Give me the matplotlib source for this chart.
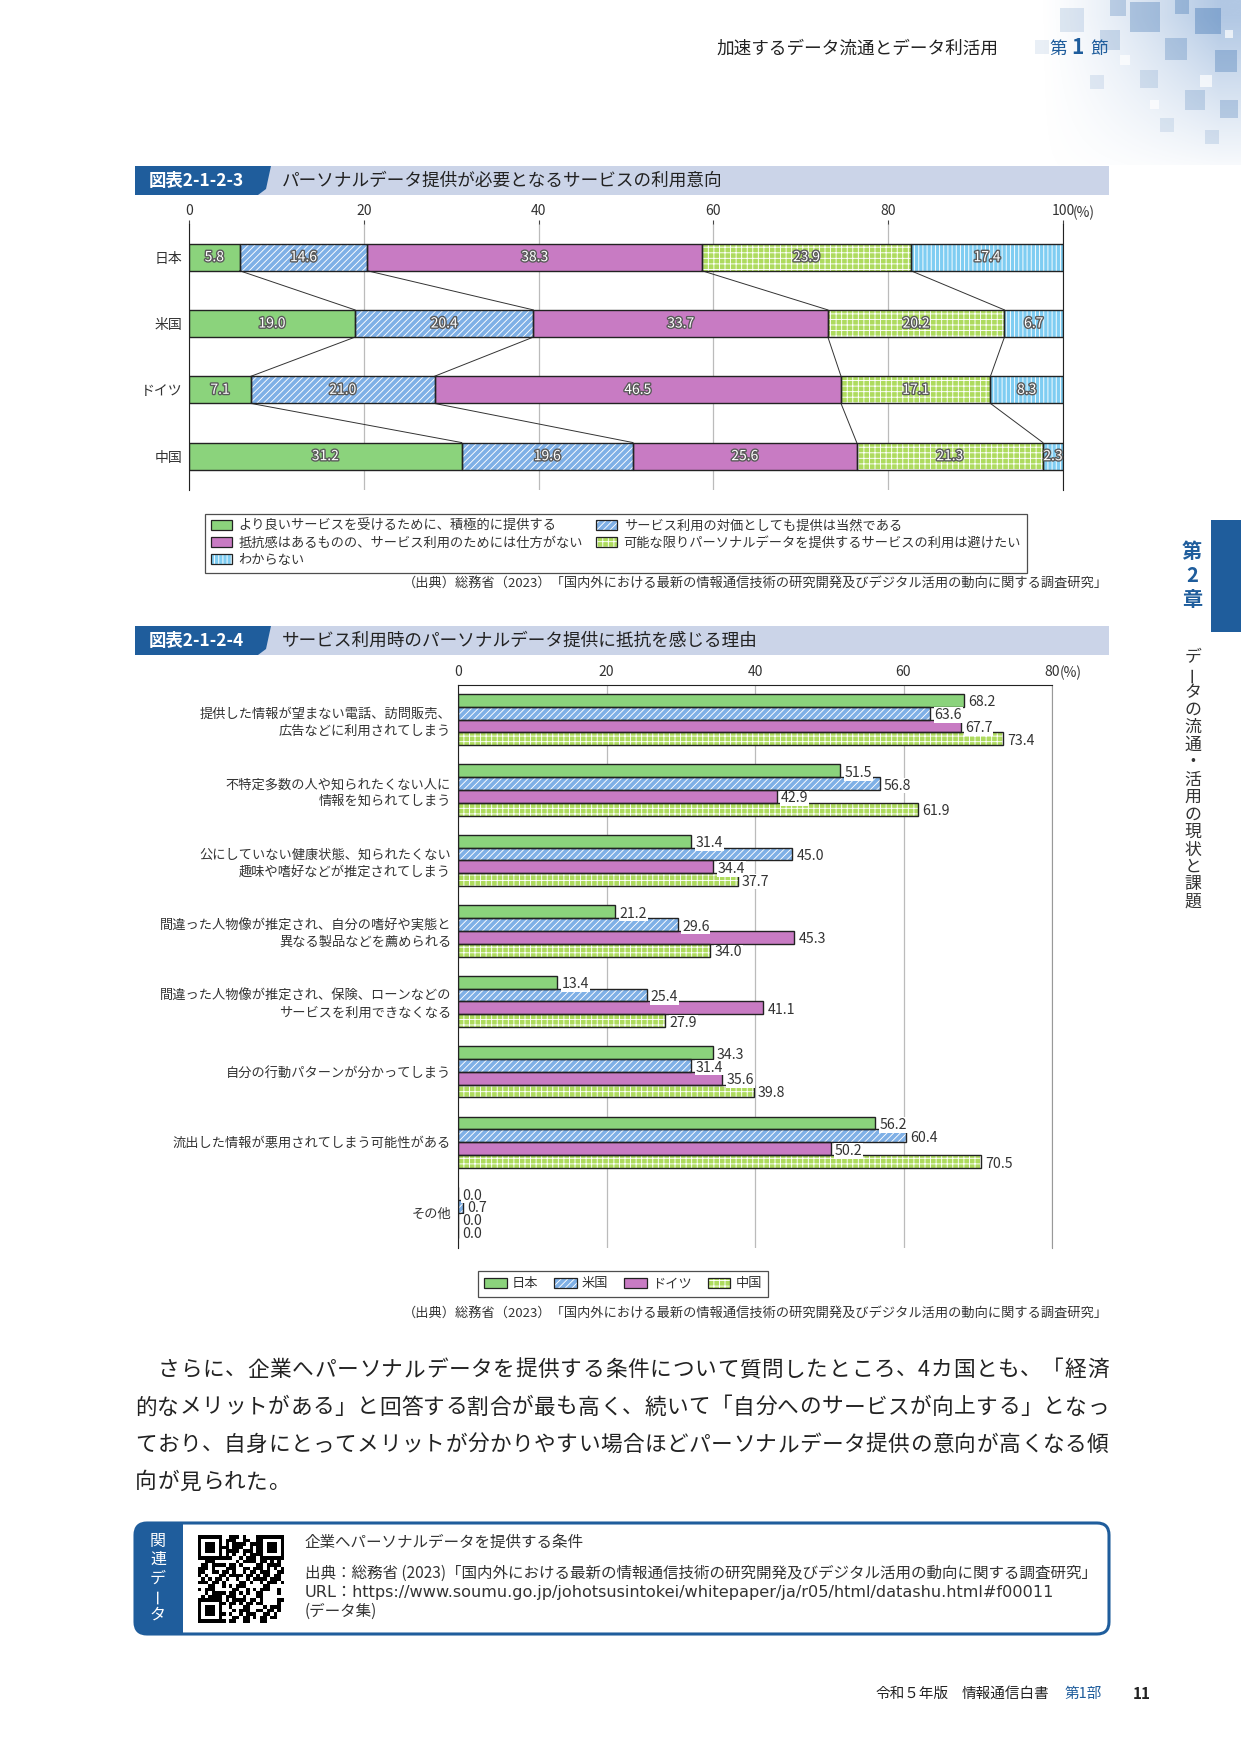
import numpy as np
import matplotlib
matplotlib.use('Agg')
import matplotlib.pyplot as plt
from matplotlib.patches import Rectangle, Polygon, FancyBboxPatch, Patch
import matplotlib.patheffects as pe

plt.rcParams['font.family'] = ['Noto Sans CJK JP', 'DejaVu Sans']
plt.rcParams['hatch.linewidth'] = 0.65

# ---------------- data ----------------
countries = ['日本', '米国', 'ドイツ', '中国']
intent_labels = ['より良いサービスを受けるために、積極的に提供する',
                 'サービス利用の対価としても提供は当然である',
                 '抵抗感はあるものの、サービス利用のためには仕方がない',
                 '可能な限りパーソナルデータを提供するサービスの利用は避けたい',
                 'わからない']
intent_jp = [5.8, 14.6, 38.3, 23.9, 17.4]
intent_us = [19.0, 20.4, 33.7, 20.2, 6.7]
intent_de = [7.1, 21.0, 46.5, 17.1, 8.3]
intent_cn = [31.2, 19.6, 25.6, 21.3, 2.3]

reasons = ['提供した情報が望まない電話、訪問販売、\n広告などに利用されてしまう',
           '不特定多数の人や知られたくない人に\n情報を知られてしまう',
           '公にしていない健康状態、知られたくない\n趣味や嗜好などが推定されてしまう',
           '間違った人物像が推定され、自分の嗜好や実態と\n異なる製品などを薦められる',
           '間違った人物像が推定され、保険、ローンなどの\nサービスを利用できなくなる',
           '自分の行動パターンが分かってしまう',
           '流出した情報が悪用されてしまう可能性がある',
           'その他']
reason_jp = [68.2, 51.5, 31.4, 21.2, 13.4, 34.3, 56.2, 0.0]
reason_us = [63.6, 56.8, 45.0, 29.6, 25.4, 31.4, 60.4, 0.7]
reason_de = [67.7, 42.9, 34.4, 45.3, 41.1, 35.6, 50.2, 0.0]
reason_cn = [73.4, 61.9, 37.7, 34.0, 27.9, 39.8, 70.5, 0.0]

ticks1 = [0, 20, 40, 60, 80, 100]
ticks2 = [0, 20, 40, 60, 80]

# ---------------- styles ----------------
GREEN = '#8bd37c'
BLUE = '#7fb0e6'
PURPLE = '#c87bc3'
LIME = '#aedb5e'
CYAN = '#7fcdf2'
NAVY = '#1f5d9c'
TXT = '#333333'
styles5 = [(GREEN, None), (BLUE, '/////'), (PURPLE, None), (LIME, '+++'), (CYAN, '||||')]
styles4 = [(GREEN, None), (BLUE, '/////'), (PURPLE, None), (LIME, '+++')]

W, H = 1241, 1754
fig = plt.figure(figsize=(W / 100, H / 100), dpi=100)
bg = fig.add_axes([0, 0, 1, 1], zorder=-5)
bg.axis('off')


def axes_px(x0, y0, x1, y1):
    return fig.add_axes([x0 / W, 1 - y1 / H, (x1 - x0) / W, (y1 - y0) / H])


def handle(fc, hatch):
    return (Patch(facecolor=fc, edgecolor='white', hatch=hatch, linewidth=0),
            Patch(fill=False, edgecolor='#222222', linewidth=0.9))


# ---------------- page decoration ----------------
gx = np.linspace(0, 1, 240)
gy = np.linspace(0, 1, 120)
X, Y = np.meshgrid(gx, gy)
alpha = np.clip((X - 0.2) * 1.4, 0, 1) ** 1.3 * np.clip(1.1 - Y, 0, 1)
img = np.zeros((120, 240, 4))
img[..., 0] = 0.62
img[..., 1] = 0.73
img[..., 2] = 0.87
img[..., 3] = alpha * 0.8
bg.imshow(img, extent=(990, 1241, 165, 0), aspect='auto', zorder=0)
deco = [(1060, 8, 24, 0.15), (1100, 30, 20, 0.2), (1130, 2, 30, 0.3), (1165, 38, 22, 0.25),
        (1195, 8, 26, 0.35), (1215, 50, 22, 0.3), (1140, 70, 18, 0.15), (1185, 90, 20, 0.2),
        (1090, 75, 14, 0.12), (1220, 100, 18, 0.25), (1160, 118, 14, 0.12), (1035, 40, 14, 0.1),
        (1205, 130, 14, 0.15), (1110, 0, 16, 0.25), (1175, 0, 14, 0.3)]
for x, y, s, a in deco:
    bg.add_patch(Rectangle((x, y), s, s, fc='#2f68ab', ec='none', alpha=a, zorder=1))
for x, y, s in [(1120, 55, 10), (1200, 75, 12), (1150, 100, 9), (1225, 30, 8)]:
    bg.add_patch(Rectangle((x, y), s, s, fc='white', ec='none', alpha=0.7, zorder=1))

bg.text(716, 49, '加速するデータ流通とデータ利活用', fontsize=12.7, color='#222222', va='center', ha='left', zorder=3)
bg.text(1049, 49, '第', fontsize=12.7, color=NAVY, va='center', ha='left', zorder=3)
bg.text(1071, 48, '1', fontsize=15, color=NAVY, fontweight='bold', va='center', ha='left', zorder=3)
bg.text(1090, 49, '節', fontsize=12.7, color=NAVY, va='center', ha='left', zorder=3)

# right side tab
bg.add_patch(Rectangle((1211, 520), 30, 112, fc=NAVY, ec='none'))
for i, ch in enumerate('第2章'):
    bg.text(1192, 552 + i * 24, ch, fontsize=14.5, color=NAVY, fontweight='bold', ha='center', va='center')
for i, ch in enumerate('データの流通・活用の現状と課題'):
    rot = 90 if ch == 'ー' else 0
    bg.text(1193, 657 + i * 17.5, ch, fontsize=12.2, color='#333333', ha='center', va='center', rotation=rot)


def header(y0, y1, tag, title):
    bg.add_patch(Rectangle((135, y0), 1109 - 135, y1 - y0, fc='#cbd4e8', ec='none'))
    bg.add_patch(Polygon([(135, y0), (271, y0), (266, y1 - 6), (258, y1), (135, y1)], fc=NAVY, ec='none'))
    bg.text(149, (y0 + y1) / 2, tag, color='white', fontsize=12.5, fontweight='bold', va='center', ha='left')
    bg.text(282, (y0 + y1) / 2, title, color='#222222', fontsize=12.7, va='center', ha='left')


header(166, 195, '図表2-1-2-3', 'パーソナルデータ提供が必要となるサービスの利用意向')
header(626, 655, '図表2-1-2-4', 'サービス利用時のパーソナルデータ提供に抵抗を感じる理由')

src = '（出典）総務省（2023）「国内外における最新の情報通信技術の研究開発及びデジタル活用の動向に関する調査研究」'
bg.text(1108, 583, src, fontsize=9.5, color=TXT, ha='right', va='center')
bg.text(1108, 1313, src, fontsize=9.5, color=TXT, ha='right', va='center')

# ---------------- chart 1 ----------------
ax1 = axes_px(189, 224, 1063, 490)
rows = [intent_jp, intent_us, intent_de, intent_cn]
ypos = np.arange(len(countries))
h1 = 0.41
left = np.zeros(len(countries))
bounds = []
for k, (fc, hatch) in enumerate(styles5):
    vals = np.array([r[k] for r in rows])
    ax1.barh(ypos, vals, left=left, height=h1, color=fc, edgecolor='white', linewidth=0, hatch=hatch, zorder=2)
    ax1.barh(ypos, vals, left=left, height=h1, fill=False, edgecolor='#222222', linewidth=1.0, zorder=3)
    for yy, l, v in zip(ypos, left, vals):
        ax1.text(l + v / 2, yy, f'{v:.1f}', ha='center', va='center', fontsize=10, color='white', zorder=5,
                 path_effects=[pe.withStroke(linewidth=2.0, foreground='#5a5a5a')])
    left = left + vals
    if k < len(styles5) - 1:
        bounds.append(left.copy())
for b in bounds:
    for r in range(len(countries) - 1):
        ax1.plot([b[r], b[r + 1]], [ypos[r] + h1 / 2, ypos[r + 1] - h1 / 2], color='#333333', lw=0.7, zorder=2)

ax1.set_xlim(0, 100)
ax1.set_ylim(3.51, -0.50)
ax1.set_xticks(ticks1)
ax1.set_xticklabels([str(t) for t in ticks1])
ax1.xaxis.tick_top()
ax1.tick_params(axis='x', length=3, width=0.8, color='#444444', pad=1.5, labelsize=10, labelcolor=TXT)
ax1.set_yticks(ypos)
ax1.set_yticklabels(countries)
ax1.tick_params(axis='y', length=0, pad=5, labelsize=10, labelcolor=TXT)
ax1.grid(axis='x', color='#bbbbbb', lw=0.9, zorder=0)
ax1.set_axisbelow(True)
for s in ['top', 'bottom']:
    ax1.spines[s].set_visible(False)
ax1.spines['left'].set_color('#222222')
ax1.spines['right'].set_color('#222222')
bg.text(1073, 213, '(%)', fontsize=10, color=TXT, ha='left', va='center')

h5 = [handle(fc, h) for fc, h in styles5]
order = [0, 2, 4, 1, 3]
leg1 = fig.legend([h5[i] for i in order], [intent_labels[i] for i in order], ncol=2,
                  loc='upper left', bbox_to_anchor=(198 / W, 1 - 507 / H), fontsize=9.5,
                  frameon=True, fancybox=False, edgecolor='#222222', handlelength=1.6, handleheight=0.8,
                  handletextpad=0.5, columnspacing=1.0, labelspacing=0.3, borderpad=0.45,
                  labelcolor=TXT)
leg1.get_frame().set_linewidth(0.9)

# ---------------- chart 2 ----------------
ax2 = axes_px(458, 685, 1052, 1248)
gpos = np.arange(len(reasons))
bh = 0.182
series = [reason_jp, reason_us, reason_de, reason_cn]
for j, (vals, (fc, hatch)) in enumerate(zip(series, styles4)):
    y = gpos + (j - 1.5) * bh
    ax2.barh(y, vals, height=bh, color=fc, edgecolor='white', linewidth=0, hatch=hatch, zorder=2)
    ax2.barh(y, vals, height=bh, fill=False, edgecolor='#222222', linewidth=1.0, zorder=3)
    for yy, v in zip(y, vals):
        ax2.annotate(f'{v:.1f}', (v, yy), xytext=(3, -1.5), textcoords='offset points', ha='left', va='center',
                     fontsize=10.2, color=TXT, zorder=6,
                     bbox=dict(boxstyle='square,pad=0.05', fc='white', ec='none'))
ax2.set_xlim(0, 80)
ax2.set_ylim(7.5, -0.49)
ax2.set_xticks(ticks2)
ax2.set_xticklabels([str(t) for t in ticks2])
ax2.xaxis.tick_top()
ax2.tick_params(axis='x', length=0, pad=4.5, labelsize=10, labelcolor=TXT)
ax2.set_yticks(gpos)
ax2.set_yticklabels(reasons, linespacing=1.35)
ax2.tick_params(axis='y', length=0, pad=5, labelsize=9.5, labelcolor=TXT)
ax2.grid(axis='x', color='#bbbbbb', lw=0.9, zorder=0)
ax2.set_axisbelow(True)
ax2.spines['bottom'].set_visible(False)
ax2.spines['top'].set_color('#222222')
ax2.spines['left'].set_color('#222222')
ax2.spines['right'].set_color('#999999')
bg.text(1060, 673, '(%)', fontsize=10, color=TXT, ha='left', va='center')

h4 = [handle(fc, h) for fc, h in styles4]
leg2 = fig.legend(h4, countries, ncol=4, loc='center', bbox_to_anchor=(623 / W, 1 - 1284 / H),
                  fontsize=9.5, frameon=True, fancybox=False, edgecolor='#222222', handlelength=1.7,
                  handleheight=0.8, handletextpad=0.4, columnspacing=1.2, borderpad=0.5, labelcolor=TXT)
leg2.get_frame().set_linewidth(0.9)

# ---------------- body text (justified) ----------------
para = ['　さらに、企業へパーソナルデータを提供する条件について質問したところ、4カ国とも、「経済',
        '的なメリットがある」と回答する割合が最も高く、続いて「自分へのサービスが向上する」となっ',
        'ており、自身にとってメリットが分かりやすい場合ほどパーソナルデータ提供の意向が高くなる傾',
        '向が見られた。']
x_left, x_right = 135, 1109
unit_ref = None
for i, line in enumerate(para):
    wts = [0.55 if ord(c) < 128 else 1.0 for c in line]
    if i < len(para) - 1:
        unit = (x_right - x_left) / sum(wts)
        unit_ref = unit
    else:
        unit = unit_ref
    x = x_left
    for c, w in zip(line, wts):
        bg.text(x + w * unit / 2, 1370 + i * 37.5, c, fontsize=15.6, color='#222222', ha='center', va='center')
        x += w * unit

# ---------------- related data box ----------------
bg.add_patch(FancyBboxPatch((135, 1523), 974, 111, boxstyle='round,pad=0,rounding_size=12',
                            fc='white', ec='none', zorder=1))
bg.add_patch(FancyBboxPatch((135, 1523), 70, 111, boxstyle='round,pad=0,rounding_size=12',
                            fc=NAVY, ec='none', zorder=2))
bg.add_patch(Rectangle((183, 1524), 30, 109, fc='white', ec='none', zorder=3))
bg.add_patch(FancyBboxPatch((135, 1523), 974, 111, boxstyle='round,pad=0,rounding_size=12',
                            fc='none', ec=NAVY, lw=2.2, zorder=4))
for i, ch in enumerate('関連データ'):
    rot = 90 if ch == 'ー' else 0
    bg.text(158, 1541 + i * 18.5, ch, fontsize=11.5, color='white', ha='center', va='center', rotation=rot, zorder=5)

url = 'https://www.soumu.go.jp/johotsusintokei/whitepaper/ja/r05/html/datashu.html#f00011'
n = 25
bits = np.unpackbits(np.frombuffer(url.encode(), dtype=np.uint8))
qr = np.resize(bits, n * n).reshape(n, n).astype(float)
for (r0, c0) in [(0, 0), (0, n - 7), (n - 7, 0)]:
    qr[r0:r0 + 7, c0:c0 + 7] = 1
    qr[r0 + 1:r0 + 6, c0 + 1:c0 + 6] = 0
    qr[r0 + 2:r0 + 5, c0 + 2:c0 + 5] = 1
bg.imshow(qr, cmap='gray_r', interpolation='nearest', extent=(198, 284, 1623, 1535), aspect='auto', zorder=5)

bg.text(305, 1542, '企業へパーソナルデータを提供する条件', fontsize=11.2, color=TXT, va='center', zorder=5)
bg.text(305, 1573, '出典：総務省 (2023)「国内外における最新の情報通信技術の研究開発及びデジタル活用の動向に関する調査研究」',
        fontsize=11.2, color=TXT, va='center', zorder=5)
bg.text(305, 1592, 'URL：' + url, fontsize=11.6, color=TXT, va='center', zorder=5,
        family=['DejaVu Sans', 'Noto Sans CJK JP'])
bg.text(305, 1611, '(データ集)', fontsize=11.2, color=TXT, va='center', zorder=5)

# footer
bg.text(876, 1694, '令和５年版', fontsize=10.5, color='#222222', va='center')
bg.text(962, 1694, '情報通信白書', fontsize=10.5, color='#222222', va='center')
bg.text(1065, 1694, '第1部', fontsize=10.5, color=NAVY, va='center')
bg.text(1133, 1694, '11', fontsize=11, color='#222222', fontweight='bold', va='center')

bg.set_xlim(0, W)
bg.set_ylim(H, 0)

fig.savefig('out.png', dpi=100)
